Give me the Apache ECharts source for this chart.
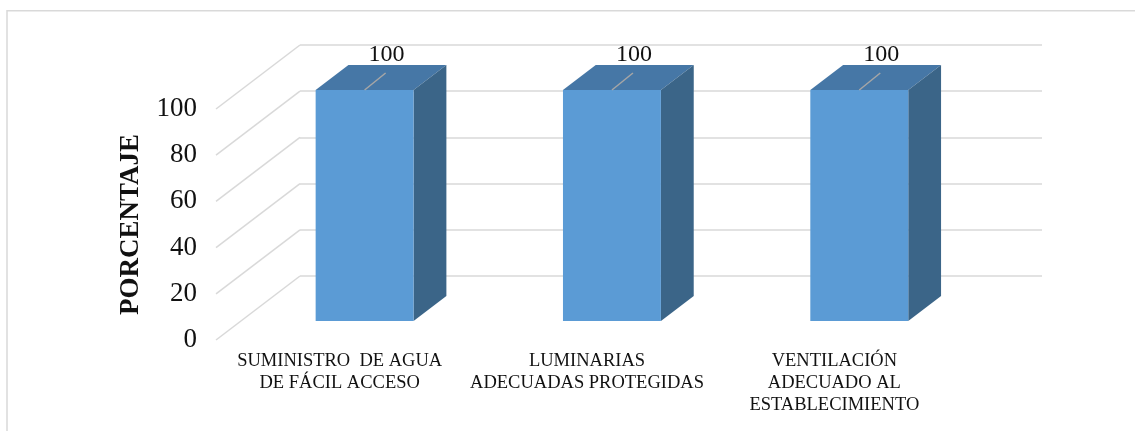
<!DOCTYPE html>
<html><head><meta charset="utf-8">
<script src="https://cdn.jsdelivr.net/npm/echarts@6/dist/echarts.min.js"></script>
<style>html,body{margin:0;padding:0;background:#fff}#c{width:1135px;height:431px}</style>
</head><body><div id="c"></div>
<script>
const categories = ['SUMINISTRO  DE AGUA\nDE FÁCIL ACCESO', 'LUMINARIAS\nADECUADAS PROTEGIDAS', 'VENTILACIÓN\nADECUADO AL\nESTABLECIMIENTO'];
const values = [100, 100, 100];
const yTicks = [0, 20, 40, 60, 80, 100];
const yTitle = 'PORCENTAJE';

const FONT = '"Liberation Serif", "Times New Roman", serif';
const DEPTH = [84, -64];      // front plane -> back wall offset
const F_FRONT = 0.297, F_BACK = 0.6875; // bar position within depth
const BAR_RATIO = 0.396;
const FRONT = {left: 216, top: 109, right: 177, bottom: 91};
const BACK = {left: FRONT.left + DEPTH[0], top: FRONT.top + DEPTH[1], right: FRONT.right - DEPTH[0], bottom: FRONT.bottom - DEPTH[1]};
const GRID_C = '#D9D9D9';

const chart = echarts.init(document.getElementById('c'));
chart.setOption({
  animation: false,
  backgroundColor: '#fff',
  graphic: [{type: 'polyline', shape: {points: [[7, 431], [7, 10.7], [1135, 10.7]]}, style: {stroke: GRID_C, lineWidth: 1.5, fill: null}, silent: true}],
  grid: [
    {left: FRONT.left, top: FRONT.top, right: FRONT.right, bottom: FRONT.bottom},
    {left: BACK.left, top: BACK.top, right: BACK.right, bottom: BACK.bottom}
  ],
  xAxis: [
    {type: 'category', gridIndex: 0, data: categories, axisLine: {show: false}, axisTick: {show: false},
      axisLabel: {interval: 0, margin: 10, fontFamily: FONT, fontSize: 18.5, lineHeight: 22, color: '#111', align: 'center'}},
    {type: 'category', gridIndex: 1, data: categories, show: false}
  ],
  yAxis: [
    {type: 'value', gridIndex: 0, min: 0, max: 100, interval: 20, splitLine: {show: false},
      axisLine: {show: false}, axisTick: {show: false},
      axisLabel: {margin: 19, fontFamily: FONT, fontSize: 27, color: '#111'},
      name: yTitle, nameLocation: 'middle', nameGap: 71, nameRotate: 90,
      nameTextStyle: {fontFamily: FONT, fontSize: 27, fontWeight: 'bold', color: '#111'}},
    {type: 'value', gridIndex: 1, min: 0, max: 100, interval: 20,
      axisLine: {show: false}, axisTick: {show: false}, axisLabel: {show: false},
      splitLine: {show: true, lineStyle: {color: GRID_C, width: 1.5}}}
  ],
  series: [
    {
      type: 'custom', xAxisIndex: 0, yAxisIndex: 0, z: 1, silent: true,
      data: yTicks.map(v => [0, v]),
      renderItem(params, api) {
        const y = api.coord([0, api.value(1)])[1];
        const x = params.coordSys.x;
        return {type: 'line', shape: {x1: x, y1: y, x2: x + DEPTH[0], y2: y + DEPTH[1]},
          style: {stroke: GRID_C, lineWidth: 1.5}};
      }
    },
    {
      type: 'custom', xAxisIndex: 0, yAxisIndex: 0, z: 3, silent: true,
      data: values.map((v, i) => [i, v]),
      renderItem(params, api) {
        const ci = api.value(0), v = api.value(1);
        const top = api.coord([ci, v]);
        const bot = api.coord([ci, 0]);
        const w = api.size([1, 0])[0] * BAR_RATIO;
        const fx = DEPTH[0] * F_FRONT, fy = DEPTH[1] * F_FRONT;
        const dx = DEPTH[0] * (F_BACK - F_FRONT), dy = DEPTH[1] * (F_BACK - F_FRONT);
        const x0 = top[0] - w / 2 + fx, x1 = top[0] + w / 2 + fx;
        const yT = top[1] + fy, yB = bot[1] + fy;
        const cx = top[0] + fx;
        return {type: 'group', children: [
          {type: 'polygon', shape: {points: [[x0, yT], [x1, yT], [x1 + dx, yT + dy], [x0 + dx, yT + dy]]}, style: {fill: '#4677A6'}},
          {type: 'polygon', shape: {points: [[x1, yT], [x1 + dx, yT + dy], [x1 + dx, yB + dy], [x1, yB]]}, style: {fill: '#3B6588'}},
          {type: 'rect', shape: {x: x0, y: yT, width: x1 - x0, height: yB - yT}, style: {fill: '#5B9BD5'}},
          {type: 'line', shape: {x1: cx, y1: yT, x2: cx + 21, y2: yT - 17}, style: {stroke: '#A6A6A6', lineWidth: 1.5}},
          {type: 'text', x: cx + 22, y: yT - 35, style: {text: String(v), font: '24px ' + FONT, fill: '#111', align: 'center', verticalAlign: 'middle'}}
        ]};
      }
    }
  ]
});
</script>
</body></html>
